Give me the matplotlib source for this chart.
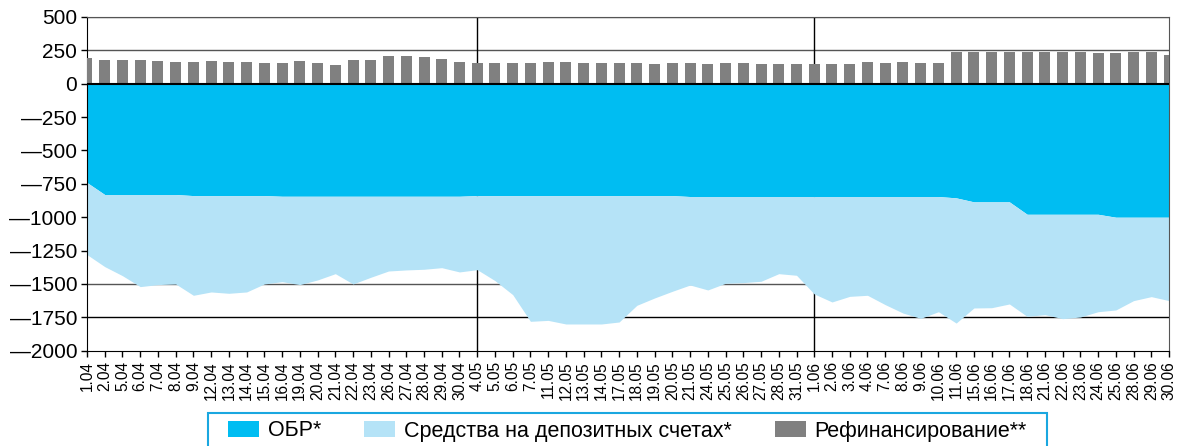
import numpy as np
import matplotlib
matplotlib.use("Agg")
import matplotlib.pyplot as plt
from matplotlib.patches import Patch, Rectangle

plt.rcParams["font.family"] = ["Liberation Sans", "DejaVu Sans"]

# ---- data -------------------------------------------------------------
dates = ["1.04", "2.04", "5.04", "6.04", "7.04", "8.04", "9.04", "12.04", "13.04", "14.04",
         "15.04", "16.04", "19.04", "20.04", "21.04", "22.04", "23.04", "26.04", "27.04",
         "28.04", "29.04", "30.04",
         "4.05", "5.05", "6.05", "7.05", "11.05", "12.05", "13.05", "14.05", "17.05", "18.05",
         "19.05", "20.05", "21.05", "24.05", "25.05", "26.05", "27.05", "28.05", "31.05",
         "1.06", "2.06", "3.06", "4.06", "7.06", "8.06", "9.06", "10.06", "11.06", "15.06",
         "16.06", "17.06", "18.06", "21.06", "22.06", "23.06", "24.06", "25.06", "28.06",
         "29.06", "30.06"]

# ОБР* (bonds of the Bank of Russia), bn rub
obr = ([-740] + [-830] * 5 + [-838] * 5 + [-843] * 11 + [-838] * 12 + [-845] * 15
       + [-855] + [-885] * 3 + [-978] * 5 + [-1000] * 4)

# Средства на депозитных счетах*, bn rub
deposits = [-540, -540, -608, -690, -675, -670, -747, -722, -732, -722,
            -662, -640, -662, -627, -580, -657, -607, -560, -552, -547,
            -535, -567, -555, -637, -742, -942, -935, -962, -962, -962,
            -947, -822, -767, -717, -663, -700, -650, -645, -635, -578,
            -590, -730, -790, -748, -740, -810, -873, -913, -863, -938,
            -795, -793, -765, -765, -752, -782, -770, -730, -695, -625,
            -595, -625]

# Рефинансирование**, bn rub
refin = [190, 175, 175, 175, 168, 160, 160, 168, 160, 160,
         153, 153, 168, 153, 138, 175, 175, 205, 205, 198,
         183, 160, 153, 153, 153, 153, 160, 160, 153, 153,
         153, 153, 145, 153, 153, 145, 153, 153, 145, 145,
         145, 145, 145, 145, 160, 153, 160, 153, 153, 235,
         235, 235, 235, 235, 235, 235, 235, 228, 228, 235,
         235, 213]

y_ticks = [500, 250, 0, -250, -500, -750, -1000, -1250, -1500, -1750, -2000]
y_labels = ["500", "250", "0", "\u2014250", "\u2014500", "\u2014750", "\u20141000",
            "\u20141250", "\u20141500", "\u20141750", "\u20142000"]
month_marks = ["4.05", "1.06"]

# ---- plot -------------------------------------------------------------
c_obr = "#00BDF2"
c_dep = "#B5E3F7"
c_ref = "#808080"

x = np.arange(len(dates))
obr = np.array(obr)
lower = obr + np.array(deposits)

fig = plt.figure(figsize=(11.8, 4.46), dpi=100)
ax = fig.add_axes([0.0737, 0.2137, 0.9170, 0.7482])

# grid lines (under everything)
for v in [500, 250, -1500]:
    ax.axhline(v, color="#555555", lw=1.0, zorder=0)
ax.axhline(-1750, color="black", lw=1.0, zorder=0)
for d in month_marks:
    ax.axvline(dates.index(d), color="black", lw=1.0, zorder=0)

ax.fill_between(x, 0, obr, color=c_obr, lw=0, zorder=2)
ax.fill_between(x, obr, lower, color=c_dep, lw=0, zorder=2)
ax.bar(x, refin, width=0.62, color=c_ref, zorder=3)
ax.axhline(0, color="black", lw=1.5, zorder=4)

ax.set_xlim(0, len(dates) - 1)
ax.set_ylim(-2000, 500)
ax.set_xticks(x)
ax.set_xticklabels(dates, rotation=90, fontsize=11.2)
ax.set_yticks(y_ticks)
ax.set_yticklabels(y_labels, fontsize=15)
ax.tick_params(axis="both", direction="out", length=4, width=1, color="black", pad=3)
ax.tick_params(axis="x", pad=3.5)

for s in ["top", "right"]:
    ax.spines[s].set_color("#555555")
for s in ["left", "bottom"]:
    ax.spines[s].set_color("black")

# legend box, open at the bottom edge of the picture
fig.add_artist(Rectangle((208 / 1180, -0.02), 839 / 1180, 1 - 413 / 446 + 0.02,
                         transform=fig.transFigure, facecolor="white",
                         edgecolor="#1AA7E0", lw=1.5))

handles = [Patch(facecolor=c_obr, edgecolor="none", label="ОБР*"),
           Patch(facecolor=c_dep, edgecolor="none", label="Средства на депозитных счетах*"),
           Patch(facecolor=c_ref, edgecolor="none", label="Рефинансирование**")]
fig.legend(handles=handles, loc="center", bbox_to_anchor=(627.5 / 1180, 1 - 431 / 446),
           ncol=3, fontsize=15.5, frameon=False,
           handlelength=1.45, handleheight=0.7, handletextpad=0.4,
           columnspacing=2.0, borderpad=0)

fig.savefig("out.png", dpi=100)
